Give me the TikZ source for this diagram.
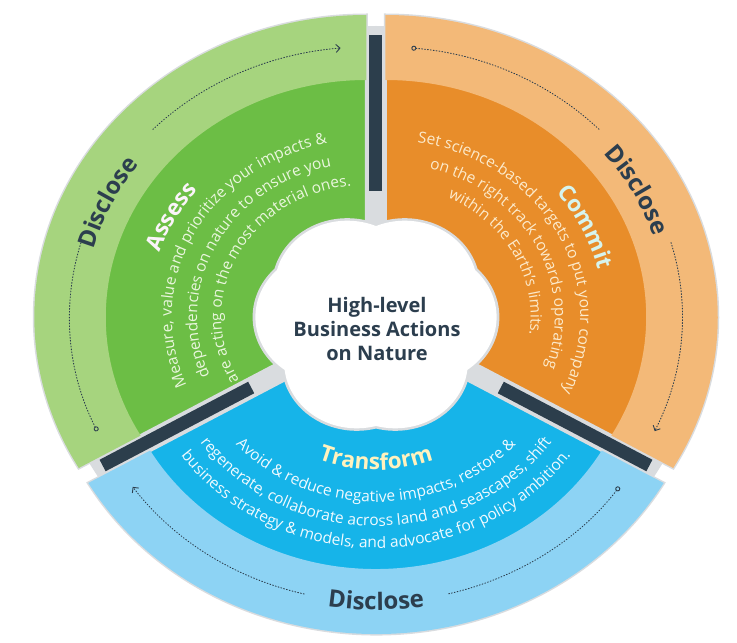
\documentclass[tikz,border=0pt]{standalone}
\usepackage{fontspec}
\setmainfont{Open Sans}
\usetikzlibrary{decorations.text, arrows.meta}

\definecolor{assesslight}{HTML}{A6D47E}
\definecolor{assessdark}{HTML}{6CBE45}
\definecolor{assesstext}{HTML}{E9F6DD}
\definecolor{assesshead}{HTML}{FBF4FA}
\definecolor{commitlight}{HTML}{F3B978}
\definecolor{commitdark}{HTML}{E88D2A}
\definecolor{committext}{HTML}{FCEACB}
\definecolor{commithead}{HTML}{D6F4EE}
\definecolor{translight}{HTML}{8DD3F4}
\definecolor{transdark}{HTML}{16B4E9}
\definecolor{transtext}{HTML}{F0FAFF}
\definecolor{transhead}{HTML}{FFF2BE}
\definecolor{bardark}{HTML}{2C3E4C}
\definecolor{textdark}{HTML}{2C3E4E}
\definecolor{gapgray}{HTML}{D9DCDF}

\newcommand\ringfont{\fontsize{24}{28}\selectfont\bfseries}
\newcommand\headfont{\fontsize{22.5}{26}\selectfont\bfseries}
\newcommand\bandfont{\fontsize{15.5}{18}\selectfont}

\begin{document}
\begin{tikzpicture}[x=1pt, y=1pt]

\tikzstyle{bar} = [draw=bardark, line width=13pt]
\tikzset{wedge/.style = {draw=gapgray, line width=3pt}, }
\tikzset{ringdots/.style = {draw=textdark, dotted, line width=0.9pt, line cap=round}, }
\tikzset{ringlabel/.style = {decorate, decoration={text along path, text align=center, text color=textdark, text={|\ringfont|Disclose}}}, }
\tikzset{bandtitle/.style 2 args = {decorate, decoration={text along path, text align=center, text color=#1, text={|\headfont|#2}}}, }
\tikzset{bandline/.style 2 args = {decorate, decoration={text along path, text align=center, text color=#1, text={|\bandfont|#2}}}, }

\useasboundingbox (-376,-321) rectangle (361,322);

% gaps between the slices
\fill[gapgray] (0,0) ellipse[x radius=326, y radius=296];

% Assess
\begin{scope}[shift={(-9.5,5)}]
\filldraw[wedge, fill=assessdark] (90:55 and 50) -- (90:332.2 and 302) arc[start angle=90, end angle=210, x radius=332.2, y radius=302] -- (210:55 and 50) -- cycle;
\fill[assesslight] (90:260.7 and 237) -- (90:332.2 and 302) arc[start angle=90, end angle=210, x radius=332.2, y radius=302] -- (210:260.7 and 237) arc[start angle=210, end angle=90, x radius=260.7, y radius=237] -- cycle;
\coordinate (assess-a) at (120:38.5 and 35);
\coordinate (assess-b) at (180:38.5 and 35);
\draw[ringdots, {Circle[open, length=5pt]}-] (205:297 and 270) arc[start angle=205, end angle=164, x radius=297, y radius=270];
\draw[ringdots, -{Straight Barb[length=4pt, width=8pt]}] (136:297 and 270) arc[start angle=136, end angle=95, x radius=297, y radius=270];
\path[ringlabel] (195:282.7 and 257) arc[start angle=195, end angle=115, x radius=282.7, y radius=257];
\path[bandtitle={assesshead}{Assess}] (202:218.9 and 199) arc[start angle=202, end angle=102, x radius=218.9, y radius=199];
\path[bandline={assesstext}{Measure, value and prioritize your impacts {\&}}] (238:194.7 and 177) arc[start angle=238, end angle=68, x radius=194.7, y radius=177];
\path[bandline={assesstext}{dependencies on nature to ensure you}] (238:169.4 and 154) arc[start angle=238, end angle=68, x radius=169.4, y radius=154];
\path[bandline={assesstext}{are acting on the most material ones.}] (238:145.2 and 132) arc[start angle=238, end angle=68, x radius=145.2, y radius=132];
\end{scope}

% Commit
\begin{scope}[shift={(9.5,5)}]
\filldraw[wedge, fill=commitdark] (-30:55 and 50) -- (-30:332.2 and 302) arc[start angle=-30, end angle=90, x radius=332.2, y radius=302] -- (90:55 and 50) -- cycle;
\fill[commitlight] (-30:260.7 and 237) -- (-30:332.2 and 302) arc[start angle=-30, end angle=90, x radius=332.2, y radius=302] -- (90:260.7 and 237) arc[start angle=90, end angle=-30, x radius=260.7, y radius=237] -- cycle;
\coordinate (commit-a) at (60:38.5 and 35);
\coordinate (commit-b) at (0:38.5 and 35);
\draw[ringdots, {Circle[open, length=5pt]}-] (85:297 and 270) arc[start angle=85, end angle=44, x radius=297, y radius=270];
\draw[ringdots, -{Straight Barb[length=4pt, width=8pt]}] (16:297 and 270) arc[start angle=16, end angle=-25, x radius=297, y radius=270];
\path[ringlabel] (68:282.7 and 257) arc[start angle=68, end angle=-12, x radius=282.7, y radius=257];
\path[bandtitle={commithead}{Commit}] (75:218.9 and 199) arc[start angle=75, end angle=-25, x radius=218.9, y radius=199];
\path[bandline={committext}{Set science-based targets to put your company}] (112:194.7 and 177) arc[start angle=112, end angle=-58, x radius=194.7, y radius=177];
\path[bandline={committext}{on the right track towards operating}] (112:169.4 and 154) arc[start angle=112, end angle=-58, x radius=169.4, y radius=154];
\path[bandline={committext}{within the Earth's limits.}] (112:145.2 and 132) arc[start angle=112, end angle=-58, x radius=145.2, y radius=132];
\end{scope}

% Transform
\begin{scope}[shift={(0,-10)}]
\filldraw[wedge, fill=transdark] (210:55 and 50) -- (210:332.2 and 302) arc[start angle=210, end angle=330, x radius=332.2, y radius=302] -- (330:55 and 50) -- cycle;
\fill[translight] (210:260.7 and 237) -- (210:332.2 and 302) arc[start angle=210, end angle=330, x radius=332.2, y radius=302] -- (330:260.7 and 237) arc[start angle=330, end angle=210, x radius=260.7, y radius=237] -- cycle;
\coordinate (trans-a) at (240:38.5 and 35);
\coordinate (trans-b) at (300:38.5 and 35);
\draw[ringdots, {Circle[open, length=5pt]}-] (325:297 and 270) arc[start angle=325, end angle=284, x radius=297, y radius=270];
\draw[ringdots, -{Straight Barb[length=4pt, width=8pt]}] (256:297 and 270) arc[start angle=256, end angle=215, x radius=297, y radius=270];
\path[ringlabel] (230:305.8 and 278) arc[start angle=230, end angle=310, x radius=305.8, y radius=278];
\path[bandtitle={transhead}{Transform}] (230:151.8 and 138) arc[start angle=230, end angle=310, x radius=151.8, y radius=138];
\path[bandline={transtext}{Avoid {\&} reduce negative impacts, restore {\&}}] (190:187 and 170) arc[start angle=190, end angle=350, x radius=187, y radius=170];
\path[bandline={transtext}{regenerate, collaborate across land and seascapes, shift}] (190:213.4 and 194) arc[start angle=190, end angle=350, x radius=213.4, y radius=194];
\path[bandline={transtext}{business strategy {\&} models, and advocate for policy ambition.}] (190:237.6 and 216) arc[start angle=190, end angle=350, x radius=237.6, y radius=216];
\end{scope}

% dark edges between the slices
\draw[bar] (90:144.1 and 131) -- (90:315.7 and 287);
\draw[bar] (210:144.1 and 131) -- (210:315.7 and 287);
\draw[bar] (330:144.1 and 131) -- (330:315.7 and 287);

% centre
\fill[gapgray] (assess-a) ellipse[x radius=75.4, y radius=68.5] (assess-b) ellipse[x radius=75.4, y radius=68.5]
  (commit-a) ellipse[x radius=75.4, y radius=68.5] (commit-b) ellipse[x radius=75.4, y radius=68.5]
  (trans-a) ellipse[x radius=75.4, y radius=68.5] (trans-b) ellipse[x radius=75.4, y radius=68.5];
\fill[white] (0,0) ellipse[x radius=77, y radius=70]
  (assess-a) ellipse[x radius=72.6, y radius=66] (assess-b) ellipse[x radius=72.6, y radius=66]
  (commit-a) ellipse[x radius=72.6, y radius=66] (commit-b) ellipse[x radius=72.6, y radius=66]
  (trans-a) ellipse[x radius=72.6, y radius=66] (trans-b) ellipse[x radius=72.6, y radius=66];
\node[align=center, text=textdark, font=\fontsize{20}{24}\selectfont\bfseries] (centre) at (1,-7) {High-level\\Business Actions\\on Nature};

\end{tikzpicture}
\end{document}
